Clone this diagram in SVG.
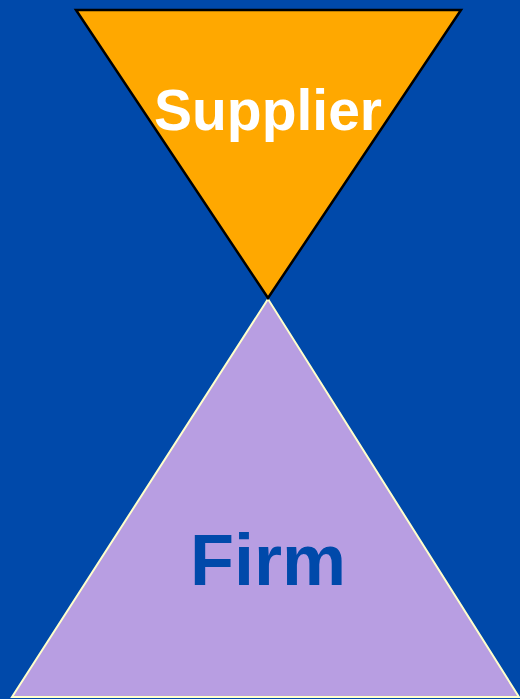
<svg xmlns="http://www.w3.org/2000/svg" width="520" height="699" viewBox="0 0 520 699">
<style>
.lbl{font-family:"Liberation Sans",Arial,sans-serif;font-weight:bold;text-anchor:middle}
</style>
<rect x="0" y="0" width="520" height="699" fill="#0049AA"/>
<g id="firm">
<polygon points="268,299 12,697 519,697" fill="#B89EE2" stroke="#FFFFCC" stroke-width="2"/>
<text class="lbl" x="268" y="585" font-size="72" fill="#0049AA">Firm</text>
</g>
<g id="supplier">
<polygon points="76,10 461,10 268,298" fill="#FFA800" stroke="#000" stroke-width="2.5"/>
<text class="lbl" x="268" y="130" font-size="57" fill="#FFFFFF">Supplier</text>
</g>
<g id="connectors"/>
</svg>
